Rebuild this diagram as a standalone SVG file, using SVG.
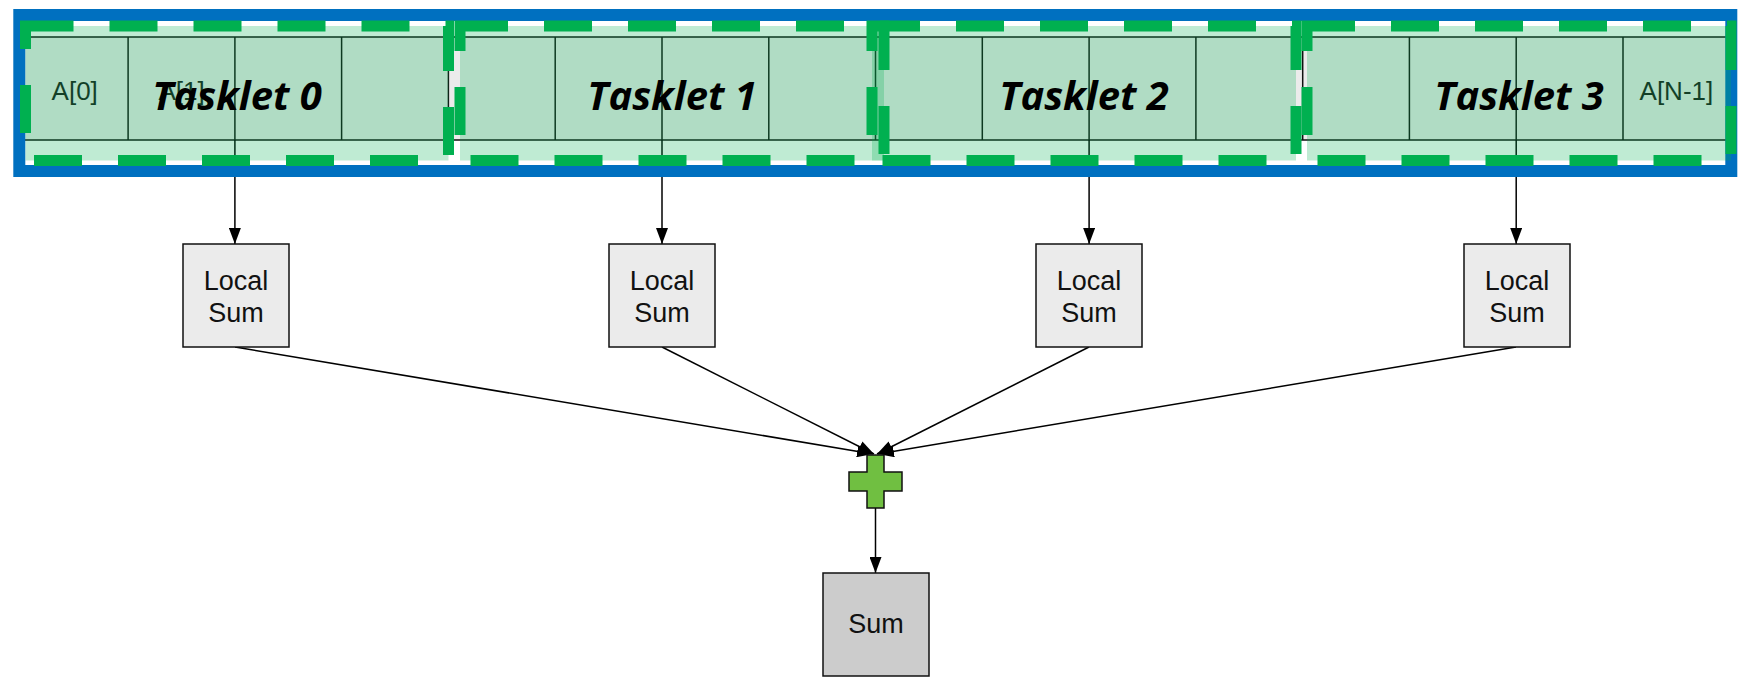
<svg xmlns="http://www.w3.org/2000/svg" width="1739" height="685" viewBox="0 0 1739 685">
  <style>
    .cell { fill: #ebebeb; stroke: #111; stroke-width: 1.5; }
    .div { stroke: #111; stroke-width: 1.5; }
    .idx { font-family: "Liberation Sans", Arial, sans-serif; font-size: 26px; fill: #1a1a1a; text-anchor: middle; }
    .frame { fill: none; stroke: #0070c0; stroke-width: 12; }
    .task { fill: #00b050; fill-opacity: 0.25; stroke: #00b050; stroke-width: 11; stroke-dasharray: 48 36; }
    .tlabel { font-family: "Open Sans", "Noto Sans", sans-serif; font-size: 40px; font-weight: bold; font-style: italic; fill: #000; text-anchor: middle; }
    .box { stroke: #111; stroke-width: 1.5; }
    .local { fill: #ebebeb; }
    .total { fill: #cccccc; }
    .lbl { font-family: "Liberation Sans", Arial, sans-serif; font-size: 27px; fill: #111; text-anchor: middle; }
    .edge { fill: none; stroke: #000; stroke-width: 1.5; marker-end: url(#arrow); }
  </style>
  <defs>
    <marker id="arrow" markerUnits="userSpaceOnUse" markerWidth="16" markerHeight="12" refX="16" refY="6" orient="auto">
      <path d="M0,0 L16,6 L0,12 Z" fill="#000"/>
    </marker>
  </defs>

  <rect width="1739" height="685" fill="#fff"/>

  <!-- array of 16 elements -->
  <g id="array">
    <rect class="cell" x="21.3" y="37" width="1708.5" height="103"/>
    <g class="div">
      <line x1="128.1" y1="37" x2="128.1" y2="140"/>
      <line x1="234.9" y1="37" x2="234.9" y2="140"/>
      <line x1="341.6" y1="37" x2="341.6" y2="140"/>
      <line x1="448.4" y1="37" x2="448.4" y2="140"/>
      <line x1="555.2" y1="37" x2="555.2" y2="140"/>
      <line x1="662.0" y1="37" x2="662.0" y2="140"/>
      <line x1="768.8" y1="37" x2="768.8" y2="140"/>
      <line x1="875.5" y1="37" x2="875.5" y2="140"/>
      <line x1="982.3" y1="37" x2="982.3" y2="140"/>
      <line x1="1089.1" y1="37" x2="1089.1" y2="140"/>
      <line x1="1195.9" y1="37" x2="1195.9" y2="140"/>
      <line x1="1302.7" y1="37" x2="1302.7" y2="140"/>
      <line x1="1409.4" y1="37" x2="1409.4" y2="140"/>
      <line x1="1516.2" y1="37" x2="1516.2" y2="140"/>
      <line x1="1623.0" y1="37" x2="1623.0" y2="140"/>
    </g>
    <text class="idx" x="74.7" y="100">A[0]</text>
    <text class="idx" x="181.5" y="100">A[1]</text>
    <text class="idx" x="1676.4" y="100">A[N-1]</text>
  </g>

  <!-- connectors -->
  <g id="connectors">
    <line class="edge" x1="234.9" y1="140" x2="234.9" y2="244"/>
    <line class="edge" x1="662.0" y1="140" x2="662.0" y2="244"/>
    <line class="edge" x1="1089.1" y1="140" x2="1089.1" y2="244"/>
    <line class="edge" x1="1516.2" y1="140" x2="1516.2" y2="244"/>
    <line class="edge" x1="235" y1="347" x2="873" y2="454"/>
    <line class="edge" x1="662" y1="347" x2="874" y2="454"/>
    <line class="edge" x1="1089" y1="347" x2="877" y2="454"/>
    <line class="edge" x1="1516" y1="347" x2="878" y2="454"/>
    <line class="edge" x1="875.5" y1="508" x2="875.5" y2="573"/>
  </g>

  <!-- DPU memory frame -->
  <rect id="frame" class="frame" x="19.3" y="15" width="1712" height="156"/>

  <!-- tasklet partitions -->
  <g id="tasklet0">
    <rect class="task" x="25.5" y="26" width="423" height="134.5"/>
    <text class="tlabel" x="237" y="110">Tasklet 0</text>
  </g>
  <g id="tasklet1">
    <rect class="task" x="460" y="26" width="424" height="134.5"/>
    <text class="tlabel" x="672" y="110">Tasklet 1</text>
  </g>
  <g id="tasklet2">
    <rect class="task" x="872" y="26" width="424" height="134.5"/>
    <text class="tlabel" x="1084" y="110">Tasklet 2</text>
  </g>
  <g id="tasklet3">
    <rect class="task" x="1307" y="26" width="424" height="134.5"/>
    <text class="tlabel" x="1519" y="110">Tasklet 3</text>
  </g>

  <!-- partial sums -->
  <g id="local0">
    <rect class="box local" x="183" y="244" width="106" height="103"/>
    <text class="lbl" x="236" y="290">Local</text>
    <text class="lbl" x="236" y="321.7">Sum</text>
  </g>
  <g id="local1">
    <rect class="box local" x="609" y="244" width="106" height="103"/>
    <text class="lbl" x="662" y="290">Local</text>
    <text class="lbl" x="662" y="321.7">Sum</text>
  </g>
  <g id="local2">
    <rect class="box local" x="1036" y="244" width="106" height="103"/>
    <text class="lbl" x="1089" y="290">Local</text>
    <text class="lbl" x="1089" y="321.7">Sum</text>
  </g>
  <g id="local3">
    <rect class="box local" x="1464" y="244" width="106" height="103"/>
    <text class="lbl" x="1517" y="290">Local</text>
    <text class="lbl" x="1517" y="321.7">Sum</text>
  </g>

  <!-- reduction -->
  <g id="plus">
    <path class="box" fill="#70bf41" d="M867,455 H884 V472 H902 V491 H884 V508 H867 V491 H849 V472 H867 Z"/>
  </g>
  <g id="sum">
    <rect class="box total" x="823" y="573" width="106" height="103"/>
    <text class="lbl" x="876" y="633">Sum</text>
  </g>
</svg>
